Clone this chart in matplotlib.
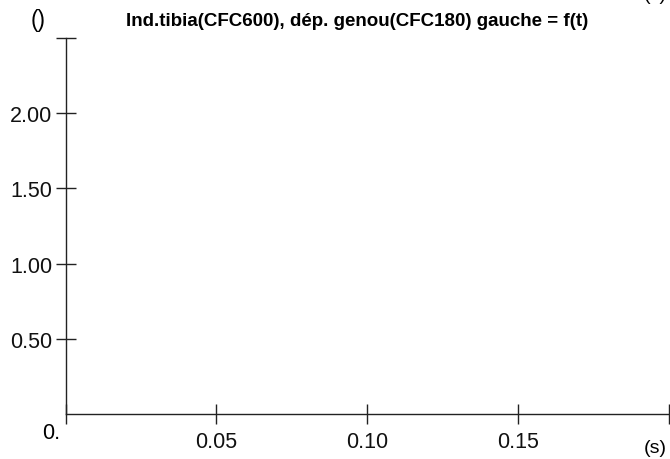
import matplotlib
matplotlib.use("Agg")
import matplotlib.pyplot as plt

plt.rcParams['font.family'] = ['Liberation Sans', 'DejaVu Sans']

title = "Ind.tibia(CFC600), dép. genou(CFC180) gauche = f(t)"
x_unit = "(s)"
y_unit = "()"
x_ticks = [0.0, 0.05, 0.10, 0.15, 0.20]
x_labels = ["", "0.05", "0.10", "0.15", ""]
y_ticks = [0.5, 1.0, 1.5, 2.0, 2.5]
y_labels = ["0.50", "1.00", "1.50", "2.00", ""]
x_range = (0.0, 0.20)
y_range = (0.0, 2.5)

fig = plt.figure(figsize=(6.7, 4.6), dpi=100)
ax = fig.add_axes([65.5 / 670, 45 / 460, 603.5 / 670, 376 / 460])

ax.set_xlim(*x_range)
ax.set_ylim(*y_range)
ax.set_xticks(x_ticks)
ax.set_xticklabels(x_labels)
ax.set_yticks(y_ticks)
ax.set_yticklabels(y_labels)

for s in ['top', 'right']:
    ax.spines[s].set_visible(False)
for s in ['left', 'bottom']:
    ax.spines[s].set_linewidth(1.0)
    ax.spines[s].set_color('#222222')

ax.tick_params(axis='both', direction='inout', length=15, width=1.0,
               color='#222222', labelsize=15.5, labelcolor='#111111')
ax.tick_params(axis='x', pad=4.5)
ax.tick_params(axis='y', pad=2)

# unit labels and corner label
fig.text(38.5 / 670, 1 - 21 / 460, y_unit, ha='center', va='center', fontsize=16.5)
fig.text(655 / 670, 1 - 449 / 460, x_unit, ha='center', va='center', fontsize=14)
fig.text(655 / 670, 1 + 4 / 460, x_unit, ha='center', va='center', fontsize=14)
fig.text(51 / 670, 1 - 434 / 460, "0.", ha='center', va='center', fontsize=15.5)

fig.text(357 / 670, 1 - 26 / 460, title, ha='center', va='baseline',
         fontsize=13.5, fontweight='bold')

fig.savefig("out.png", dpi=100)
